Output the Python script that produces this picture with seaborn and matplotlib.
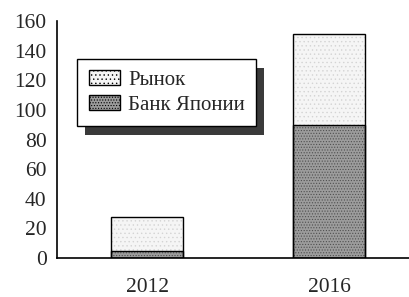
import matplotlib
matplotlib.use("Agg")
import matplotlib.pyplot as plt
from matplotlib.patches import Patch, Rectangle
import seaborn as sns

years = ["2012", "2016"]
boj = [5, 90]          # Банк Японии
market = [23, 61]      # Рынок
totals = [b + m for b, m in zip(boj, market)]

sns.set_style("white")
plt.rcParams["font.family"] = ["Liberation Serif", "DejaVu Serif"]
plt.rcParams["hatch.linewidth"] = 0.5

fig = plt.figure(figsize=(4.1, 2.97), dpi=100)
ax = fig.add_axes([0.139, 0.131, 0.861, 0.798])

market_fc, market_hc = "#f5f5f5", "#d4d4d4"
boj_fc, boj_hc = "#9c9c9c", "#505050"

# top segment (market) drawn as full stack, BoJ drawn over it
sns.barplot(x=years, y=totals, width=0.4, facecolor=market_fc, edgecolor=market_hc,
            hatch="....", linewidth=0, ax=ax)
sns.barplot(x=years, y=boj, width=0.4, facecolor=boj_fc, edgecolor=boj_hc,
            hatch="......", linewidth=0, ax=ax)
# outlines
sns.barplot(x=years, y=totals, width=0.4, facecolor="none", edgecolor="black",
            linewidth=1.0, ax=ax)
sns.barplot(x=years, y=boj, width=0.4, facecolor="none", edgecolor="black",
            linewidth=1.0, ax=ax)

ax.set_xlim(-0.495, 1.445)
ax.set_ylim(0, 160)
ax.set_yticks(range(0, 161, 20))
ax.set_xticks([-0.495, 0.5])
ax.set_xticklabels([])
ax.set_xticks([0, 1], minor=True)
ax.set_xticklabels(years, minor=True)
ax.tick_params(axis="x", which="major", direction="out", length=6, width=1.2, color="black")
ax.tick_params(axis="x", which="minor", length=0, pad=14, labelsize=15.5)
ax.tick_params(axis="y", direction="out", length=4.5, width=1.2, color="black", labelsize=15.5, pad=3)
ax.set_xlabel("")
ax.set_ylabel("")

for s in ["top", "right"]:
    ax.spines[s].set_visible(False)
for s in ["left", "bottom"]:
    ax.spines[s].set_color("black")
    ax.spines[s].set_linewidth(1.2)
ax.spines["bottom"].set_zorder(5)

handles = [Patch(facecolor=market_fc, edgecolor="black", hatch="....", linewidth=1.0),
           Patch(facecolor=boj_fc, edgecolor="black", hatch="......", linewidth=1.0)]
leg = ax.legend(handles, ["Рынок", "Банк Японии"], loc="upper left",
                bbox_to_anchor=(0.057, 0.84), borderaxespad=0, fontsize=15,
                frameon=True, fancybox=False, edgecolor="black", framealpha=1,
                handlelength=1.5, handleheight=0.7, handletextpad=0.4,
                borderpad=0.55, labelspacing=0.25)
leg.get_frame().set_linewidth(1.0)
leg.set_zorder(10)

# offset dark shadow behind legend
fig.canvas.draw()
bb = leg.get_frame().get_window_extent()
shadow = Rectangle((bb.x0 + 8, bb.y0 - 9), bb.width, bb.height, transform=None,
                   facecolor="#3a3a3a", edgecolor="none", zorder=9)
ax.add_artist(shadow)

fig.savefig("out.png", dpi=100)
